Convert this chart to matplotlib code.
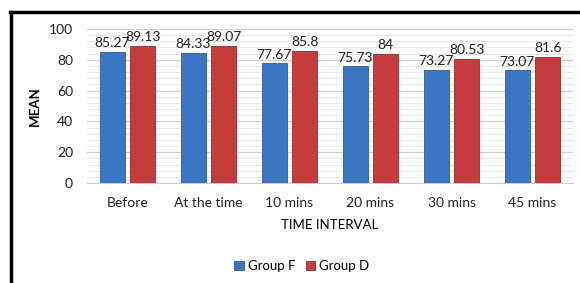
import numpy as np
import matplotlib.pyplot as plt
from matplotlib.lines import Line2D

categories = ["Before", "At the time", "10 mins", "20 mins", "30 mins", "45 mins"]
group_f = [85.27, 84.33, 77.67, 75.73, 73.27, 73.07]
group_d = [89.13, 89.07, 85.8, 84, 80.53, 81.6]
f_labels = ["85.27", "84.33", "77.67", "75.73", "73.27", "73.07"]
d_labels = ["89.13", "89.07", "85.8", "84", "80.53", "81.6"]

plt.rcParams['font.family'] = ['Lato', 'DejaVu Sans']

fig = plt.figure(figsize=(5.8, 2.83), dpi=100)
ax = fig.add_axes([0.15, 0.353, 0.838, 0.545])

x = np.arange(len(categories))
w = 0.31
ax.bar(x - 0.19, group_f, w, color="#3b76c4", edgecolor="#2c5a98", linewidth=0.6,
       label="Group F", zorder=3)
ax.bar(x + 0.19, group_d, w, color="#c43c3c", edgecolor="#962c2c", linewidth=0.6,
       label="Group D", zorder=3)

for xi, v, s in zip(x, group_f, f_labels):
    ax.text(xi - 0.19, v + 1.8, s, ha="center", va="bottom", fontsize=10, color="#222222")
for xi, v, s in zip(x, group_d, d_labels):
    ax.text(xi + 0.19, v + 1.8, s, ha="center", va="bottom", fontsize=10, color="#222222")

ax.set_xlim(-0.5, len(categories) - 0.5)
ax.set_ylim(0, 100)
ax.set_yticks(range(0, 101, 20))
ax.set_yticks(range(0, 101, 4), minor=True)
ax.grid(axis="y", which="major", color="#cfcfcf", linewidth=0.9, zorder=0)
ax.grid(axis="y", which="minor", color="#e4e4e4", linewidth=0.6, zorder=0)
ax.set_xticks(x)
ax.set_xticklabels(categories)
ax.tick_params(axis="both", which="both", length=0, labelsize=10, colors="#222222")
ax.tick_params(axis="x", pad=10)
ax.tick_params(axis="y", pad=10)
for sp in ["top", "right", "left"]:
    ax.spines[sp].set_visible(False)
ax.spines["bottom"].set_color("#cccccc")

ax.set_xlabel("TIME INTERVAL", fontsize=9.5, labelpad=7)
ax.set_ylabel("MEAN", fontsize=9.5, fontweight="bold", labelpad=6)

fig.legend(loc="center", bbox_to_anchor=(0.52, 0.06), ncol=2, frameon=False,
           fontsize=9.5, handlelength=0.7, handleheight=0.7, handletextpad=0.3,
           columnspacing=0.8)

# black frame on top and left
fig.add_artist(Line2D([10 / 580, 1], [1 - 12 / 283, 1 - 12 / 283], color="black",
                      linewidth=2.5, transform=fig.transFigure))
fig.add_artist(Line2D([11 / 580, 11 / 580], [0, 1 - 12 / 283], color="black",
                      linewidth=2.5, transform=fig.transFigure))

fig.savefig("out.png", dpi=100)
